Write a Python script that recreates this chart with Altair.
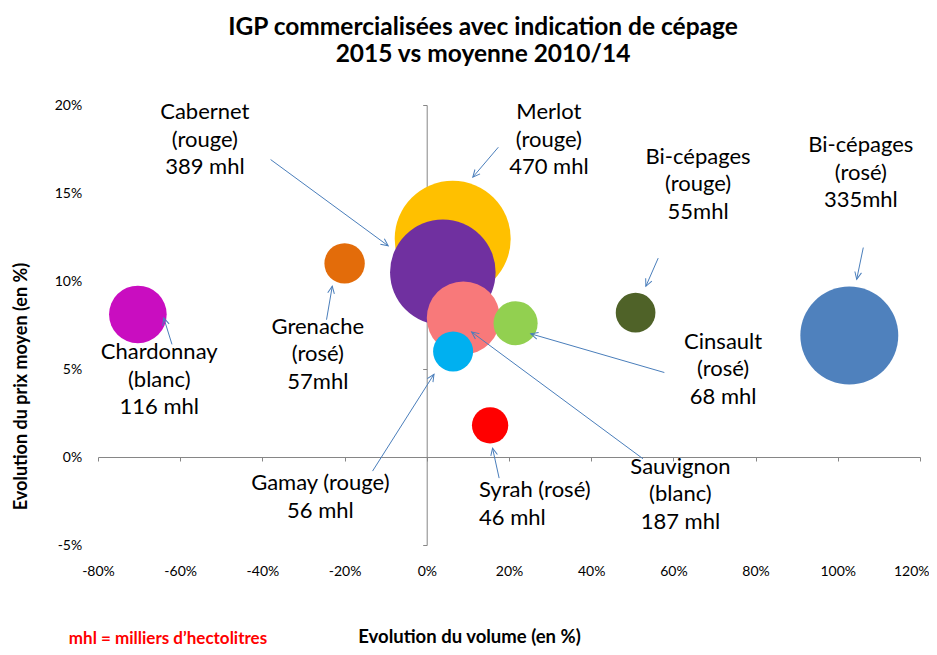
import math
import altair as alt
import pandas as pd

# ---- data ----
names = ["Merlot", "Cabernet", "Sauvignon", "Gamay", "Cinsault",
         "Bi-cépages rouge", "Bi-cépages rosé", "Syrah", "Chardonnay", "Grenache"]
vol_change = [6.3, 3.9, 8.9, 6.4, 21.6, 50.8, 102.8, 15.4, -70.3, -20.0]      # % volume evolution
price_change = [12.4, 10.5, 7.9, 6.0, 7.6, 8.2, 6.9, 1.8, 8.1, 11.0]          # % price evolution
volume_mhl = [470, 389, 187, 56, 68, 55, 335, 46, 116, 57]
colors = ["#FFC000", "#7030A0", "#F8797A", "#00B0F0", "#92D050",
          "#4F6228", "#4F81BD", "#FF0000", "#C90DC0", "#E36C0A"]

labels = ["Merlot\n(rouge)\n470 mhl", "Cabernet\n(rouge)\n389 mhl", "Sauvignon\n(blanc)\n187 mhl",
          "Gamay (rouge)\n56 mhl", "Cinsault\n(rosé)\n68 mhl", "Bi-cépages\n(rouge)\n55mhl",
          "Bi-cépages\n(rosé)\n335mhl", "Syrah (rosé)\n 46 mhl", "Chardonnay\n(blanc)\n116 mhl",
          "Grenache\n(rosé)\n57mhl"]
label_x = [29.7, -54.0, 61.7, -25.9, 72.1, 66.0, 105.6, 12.7, -65.1, -26.5]
label_y = [19.6, 19.6, -0.55, -1.5, 6.55, 17.05, 17.7, -1.9, 5.95, 7.4]
label_align = ["center", "center", "center", "center", "center",
               "center", "center", "left", "center", "center"]

arrow_x1 = [17.4, -38.0, 52.6, -13.2, 57.8, 56.3, 106.2, 17.6, -62.0, -24.4]
arrow_y1 = [17.6, 16.9, -0.1, -0.8, 4.8, 11.3, 11.9, -1.2, 6.4, 7.8]
arrow_x2 = [11.2, -9.4, 10.9, 1.75, 25.3, 53.3, 104.6, 16.0, -64.0, -23.0]
arrow_y2 = [15.9, 12.0, 7.1, 4.7, 7.0, 9.7, 10.1, 0.5, 7.9, 9.7]

x_ticks = [-80, -60, -40, -20, 0, 20, 40, 60, 80, 100, 120]
y_ticks = [-5, 0, 5, 10, 15, 20]
title_lines = ["IGP commercialisées avec indication de cépage", "2015 vs moyenne 2010/14"]
note_text = "mhl = milliers d\u2019hectolitres"

# ---- layout / style ----
W, H = 822, 440
KX, KY = W / 200.0, H / 25.0
FONT = "Lato"
ARROW = "#4A7EBB"
MAX_D = 116  # diameter (px) of the largest bubble

bubbles = pd.DataFrame({"name": names, "vol": vol_change, "price": price_change,
                        "mhl": volume_mhl, "ord": list(range(len(names)))})
lab = pd.DataFrame({"label": labels, "lx": label_x, "ly": label_y, "align": label_align})
angles = []
for a, b, c, d in zip(arrow_x1, arrow_y1, arrow_x2, arrow_y2):
    dx = (c - a) * KX
    dy = (d - b) * KY
    angles.append(math.degrees(math.atan2(dx, dy)) % 360)
arrows = pd.DataFrame({"x1": arrow_x1, "y1": arrow_y1, "x2": arrow_x2, "y2": arrow_y2, "ang": angles})

xs = alt.Scale(domain=[-80, 120], nice=False, zero=False)
ys = alt.Scale(domain=[-5, 20], nice=False, zero=False)

last_x = "datum.value == %d" % x_ticks[-1]
x_axis = alt.Axis(values=x_ticks, labelExpr="datum.value + '%'", offset=-88, tickSize=4,
                  labelPadding=103, labelFlush=False,
                  labelAlign={"condition": {"test": last_x, "value": "right"}, "value": "center"},
                  labelOffset={"condition": {"test": last_x, "value": 9}, "value": 0},
                  domainColor="#868686", tickColor="#868686",
                  labelFont=FONT, labelFontSize=14, labelColor="black", grid=False,
                  title="Evolution du volume (en %)", titleFont=FONT, titleFontSize=18.5,
                  titleFontWeight="bold", titleColor="black", titleX=371, titleY=179,
                  titleBaseline="middle", titleAlign="center")
y_axis = alt.Axis(values=y_ticks, labelExpr="datum.value + '%'", offset=-328.7, tickSize=4,
                  labelPadding=341, labelFlush=False, domainColor="#868686", tickColor="#868686",
                  labelFont=FONT, labelFontSize=14, labelColor="black", grid=False,
                  title="Evolution du prix moyen (en %)", titleFont=FONT, titleFontSize=18,
                  titleFontWeight="bold", titleColor="black", titleX=-405.5, titleY=281,
                  titleBaseline="middle", titleAlign="center")


def X(f):
    return alt.X(f, scale=xs, axis=x_axis)


def Y(f):
    return alt.Y(f, scale=ys, axis=y_axis)


circles = alt.Chart(bubbles).mark_circle(opacity=1).encode(
    x=X("vol:Q"), y=Y("price:Q"),
    size=alt.Size("mhl:Q", scale=alt.Scale(domain=[0, 470], nice=False, zero=True,
                                           range=[0, MAX_D ** 2]), legend=None),
    color=alt.Color("name:N", scale=alt.Scale(domain=names, range=colors), legend=None),
    order=alt.Order("ord:Q"),
)

lines = alt.Chart(arrows).mark_rule(color=ARROW, strokeWidth=1).encode(
    x=X("x1:Q"), y=Y("y1:Q"), x2="x2:Q", y2="y2:Q")
heads = alt.Chart(arrows).mark_point(shape="M -0.42 0.9 L 0 0 L 0.42 0.9", filled=False,
                                     stroke=ARROW, strokeWidth=1, size=256, opacity=1).encode(
    x=X("x2:Q"), y=Y("y2:Q"), angle=alt.Angle("ang:Q", scale=None))


def text_layer(al):
    return alt.Chart(lab).transform_filter(alt.datum.align == al).mark_text(
        font=FONT, fontSize=22, lineHeight=27.5, lineBreak="\n", align=al,
        baseline="middle", color="black").encode(
        x=X("lx:Q"), y=Y("ly:Q"), text="label:N")


note = alt.Chart(pd.DataFrame({"note": [note_text]})).mark_text(
    font=FONT, fontSize=17, fontWeight="bold", color="#FF0000", align="center",
    baseline="middle").encode(x=alt.value(70), y=alt.value(534), text="note:N")

chart = alt.layer(circles, lines, heads, text_layer("center"), text_layer("left"), note).properties(
    width=W, height=H,
    title=alt.TitleParams(text=title_lines, font=FONT, fontSize=24.5, fontWeight="bold",
                          color="black", anchor="middle", dx=-26, offset=31, lineHeight=27),
    autosize=alt.AutoSizeParams(type="none"),
    padding={"left": 90, "top": 97, "right": 9, "bottom": 102},
).configure_view(stroke=None)

chart.save("out.html", embed_options={"renderer": "svg", "actions": False})
